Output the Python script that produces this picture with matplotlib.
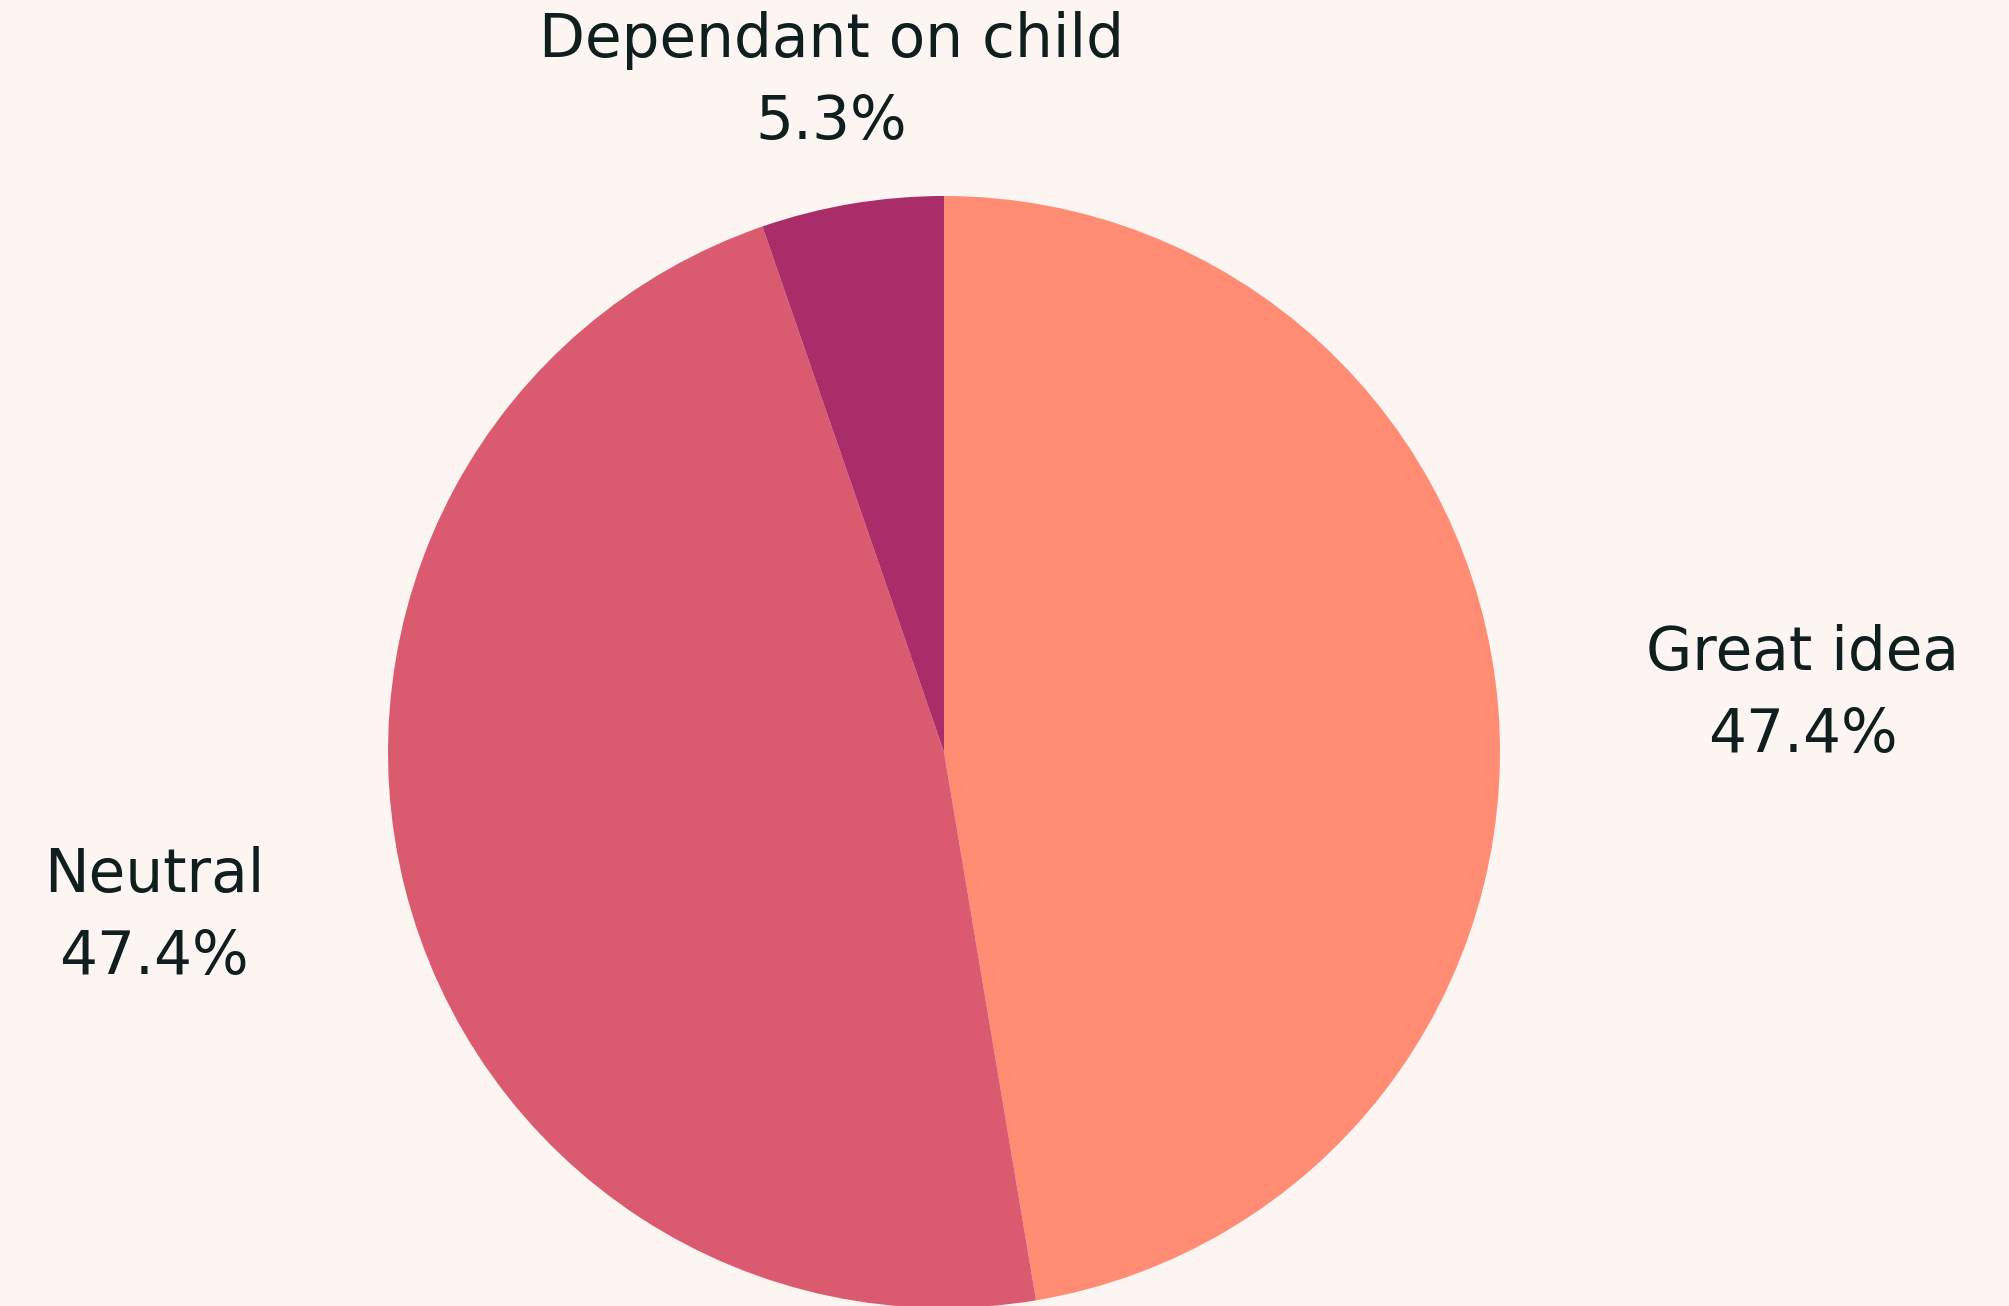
import numpy as np
import matplotlib.pyplot as plt

# data
labels = ['Great idea', 'Neutral', 'Dependant on child']
shares = [47.4, 47.4, 5.3]
colors = ['#ff8c73', '#da5b6f', '#a82d68']
# label placement: distance from centre along mid angle, plus a vertical nudge
label_radius = [1.55, 1.466, 1.223]
label_nudge = [-0.025, 0.067, 0.0]

bg = '#fdf5f2'
txt = '#0f1e1e'

fig = plt.figure(figsize=(20.09, 13.06), dpi=100, facecolor=bg)
ax = fig.add_axes([0, 0, 1, 1])
ax.set_facecolor(bg)

wedges, _ = ax.pie(shares, colors=colors, startangle=90, counterclock=False,
                   radius=1.0, wedgeprops=dict(linewidth=0))

# labels outside, centred on each wedge's mid angle
for w, lab, val, r, dy in zip(wedges, labels, shares, label_radius, label_nudge):
    ang = np.deg2rad((w.theta1 + w.theta2) / 2)
    ax.text(r * np.cos(ang), r * np.sin(ang) + dy, '%s\n%.1f%%' % (lab, val),
            ha='center', va='center', fontsize=43, color=txt,
            linespacing=1.5, family='DejaVu Sans')

# pie centre at (944, 752) px, radius 556 px
ax.set_xlim(-944 / 556, (2009 - 944) / 556)
ax.set_ylim(-(1306 - 752) / 556, 752 / 556)
ax.set_aspect('auto')
ax.axis('off')

fig.savefig('out.png', dpi=100, facecolor=bg)
